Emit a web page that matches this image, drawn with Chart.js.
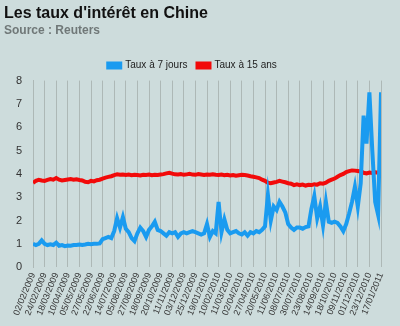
<!DOCTYPE html>
<html>
<head>
<meta charset="utf-8">
<script src="https://cdn.jsdelivr.net/npm/chart.js@4"></script>
<style>
  html, body { margin: 0; padding: 0; background: #cddcdc; }
  #wrap { width: 400px; height: 326px; }
</style>
</head>
<body>
<div id="wrap"><canvas id="myChart"></canvas></div>
<script>
// tick labels on the x axis (one every ~3 weeks)
var dateLabels = [
  '02/02/2009', '24/02/2009', '18/03/2009', '10/04/2009', '05/05/2009',
  '27/05/2009', '22/06/2009', '14/07/2009', '05/08/2009', '27/08/2009',
  '18/09/2009', '20/10/2009', '11/11/2009', '03/12/2009', '25/12/2009',
  '19/01/2010', '10/02/2010', '11/03/2010', '02/04/2010', '27/04/2010',
  '20/05/2010', '11/06/2010', '08/07/2010', '30/07/2010', '23/08/2010',
  '14/09/2010', '18/10/2010', '09/11/2010', '01/12/2010', '23/12/2010',
  '17/01/2011'
];

// readings: 4 per label interval
var pointsPerLabel = 4;

var taux7jours = [
  1.0, 0.95, 1.0, 1.15,   1.0, 0.95, 0.98, 0.95,   1.05, 0.92, 0.95, 0.9,
  0.93, 0.92, 0.95, 0.95, 0.97, 0.95, 0.97, 1.0,   0.98, 1.0, 1.0, 1.02,
  1.2, 1.25, 1.3, 1.25,   1.55, 2.1, 1.7, 2.15,    1.65, 1.5, 1.25, 1.12,
  1.45, 1.7, 1.55, 1.3,   1.6, 1.75, 1.95, 1.6,    1.55, 1.45, 1.35, 1.5,
  1.45, 1.5, 1.3, 1.45,   1.5, 1.45, 1.5, 1.55,    1.5, 1.45, 1.4, 1.45,
  1.85, 1.3, 1.55, 1.45,  2.8, 1.5, 2.05, 1.6,     1.45, 1.5, 1.55, 1.45,
  1.4, 1.5, 1.35, 1.5,    1.45, 1.55, 1.5, 1.6,    1.75, 3.1, 2.0, 2.6,
  2.45, 2.8, 2.6, 2.35,   1.85, 1.7, 1.6, 1.7,     1.7, 1.65, 1.72, 1.75,
  2.5, 3.05, 2.1, 2.6,    1.8, 2.8, 1.95, 1.9,     1.95, 1.9, 1.75, 1.55,
  1.85, 2.3, 2.8, 3.45,   2.6, 3.6, 6.5, 5.3,      7.5, 5.0, 2.8, 2.25,
  7.5
];

var taux15ans = [
  3.62, 3.7, 3.75, 3.72,  3.7, 3.74, 3.78, 3.75,   3.82, 3.75, 3.72, 3.74,
  3.76, 3.78, 3.75, 3.77, 3.74, 3.72, 3.66, 3.64,  3.7, 3.68, 3.73, 3.75,
  3.8, 3.84, 3.87, 3.9,   3.95, 3.98, 3.96, 3.97,  3.95, 3.97, 3.94, 3.96,
  3.95, 3.93, 3.96, 3.95, 3.97, 3.94, 3.96, 3.95,  3.97, 3.99, 4.02, 4.05,
  4.01, 3.98, 3.97, 3.99, 3.96, 3.98, 4.0, 3.97,   3.96, 3.99, 3.97, 3.95,
  3.97, 3.96, 3.98, 3.96, 3.95, 3.97, 3.94, 3.96,  3.93, 3.95, 3.92, 3.94,
  3.96, 3.95, 3.93, 3.9,  3.88, 3.85, 3.82, 3.75,  3.7, 3.62, 3.6, 3.63,
  3.66, 3.7, 3.67, 3.64,  3.6, 3.58, 3.52, 3.55,   3.52, 3.54, 3.5, 3.53,
  3.52, 3.55, 3.54, 3.6,  3.58, 3.62, 3.7, 3.75,   3.8, 3.88, 3.95, 4.0,
  4.08, 4.12, 4.15, 4.14, 4.12, 4.1, 4.05, 4.02,   4.06, 4.04, 4.07, 4.05,
  4.08
];

function toPoints(values) {
  return values.map(function (v, i) {
    return { x: i / pointsPerLabel, y: v };
  });
}

// paint the grey-blue background behind everything
var bgPlugin = {
  id: 'bg',
  beforeDraw: function (chart) {
    var c = chart.ctx;
    c.save();
    c.fillStyle = '#cddcdc';
    c.fillRect(0, 0, chart.width, chart.height);
    c.restore();
  }
};

var ctx = document.getElementById('myChart').getContext('2d');
var chart = new Chart(ctx, {
  type: 'line',
  data: {
    datasets: [
      {
        label: 'Taux à 7 jours',
        data: toPoints(taux7jours),
        borderColor: '#1a9bf0',
        backgroundColor: '#1a9bf0',
        borderWidth: 4,
        pointRadius: 0,
        tension: 0
      },
      {
        label: 'Taux à 15 ans',
        data: toPoints(taux15ans),
        borderColor: '#f20a0a',
        backgroundColor: '#f20a0a',
        borderWidth: 4,
        pointRadius: 0,
        tension: 0
      }
    ]
  },
  options: {
    responsive: true,
    maintainAspectRatio: false,
    animation: false,
    layout: {
      padding: { left: 4, right: 19, top: 0, bottom: 5 }
    },
    plugins: {
      title: {
        display: true,
        text: "Les taux d'intérêt en Chine",
        align: 'start',
        color: '#111',
        font: { family: 'Liberation Sans', size: 16, weight: 'bold' },
        padding: { top: 4, bottom: 0 }
      },
      subtitle: {
        display: true,
        text: 'Source : Reuters',
        align: 'start',
        color: '#707878',
        font: { family: 'Liberation Sans', size: 12, weight: 'bold' },
        padding: { top: 0, bottom: 13 }
      },
      legend: {
        position: 'top',
        labels: {
          color: '#222',
          font: { family: 'Liberation Sans', size: 10 },
          boxWidth: 12,
          boxHeight: 4,
          padding: 10
        }
      },
      tooltip: { enabled: false }
    },
    scales: {
      x: {
        type: 'linear',
        min: 0,
        max: dateLabels.length - 1,
        grid: { color: '#adb8b6', drawTicks: false },
        border: { display: false },
        ticks: {
          stepSize: 1,
          autoSkip: false,
          minRotation: 68,
          maxRotation: 68,
          padding: 4,
          color: '#333',
          font: { family: 'Liberation Sans', size: 9 },
          callback: function (value) { return dateLabels[value]; }
        }
      },
      y: {
        min: 0,
        max: 8,
        grid: { display: false },
        border: { display: true, color: '#adb8b6' },
        afterFit: function (scale) { scale.width = 29; },
        ticks: {
          stepSize: 1,
          padding: 3,
          color: '#333',
          font: { family: 'Liberation Sans', size: 11 }
        }
      }
    }
  },
  plugins: [bgPlugin]
});
</script>
</body>
</html>
